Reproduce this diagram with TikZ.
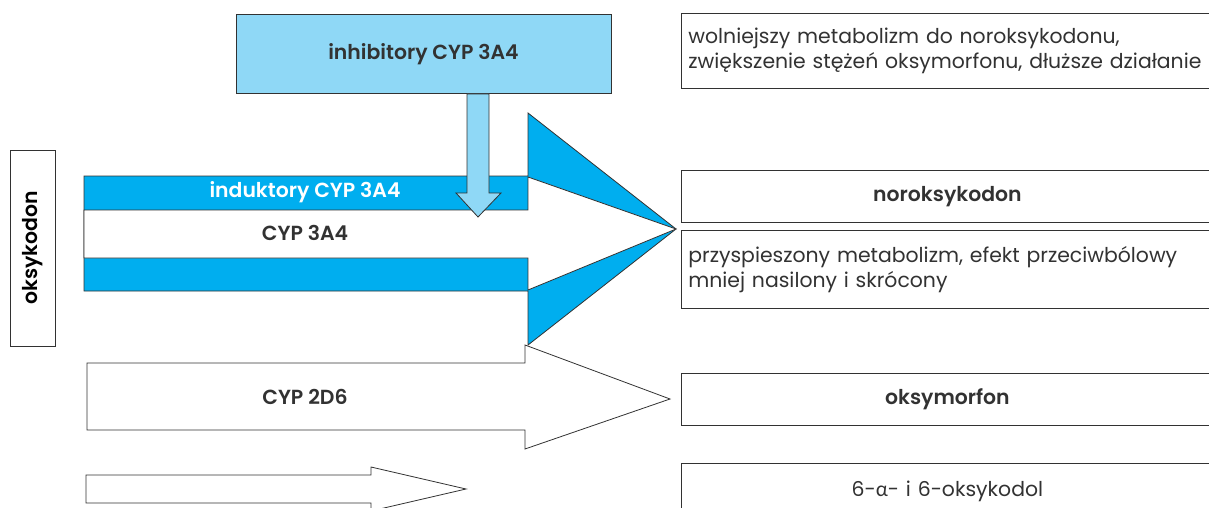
\documentclass[tikz,border=0pt]{standalone}
\usepackage{fontspec}
\setmainfont{Poppins}[BoldFont={Poppins SemiBold}]
\newfontfamily\greekfont{Lato}
\usetikzlibrary{positioning}

\definecolor{cypblue}{RGB}{0,174,239}
\definecolor{inhblue}{RGB}{143,216,246}
\definecolor{edgegray}{RGB}{50,50,50}

\begin{document}
\begin{tikzpicture}[x=1pt, y=-1pt,
    outline/.style={draw=edgegray, line width=0.8pt},
    infobox/.style={outline, fill=white, anchor=north west, minimum width=532pt,
                    text width=518pt, inner xsep=6pt, inner ysep=0pt},
    lbl/.style={font=\fontsize{20.4}{25}\selectfont\bfseries},
    txt/.style={font=\fontsize{20.4}{25}\selectfont, text=edgegray}]
  \useasboundingbox (0,0) rectangle (1209,508);

  % substrat
  \node[outline, minimum width=196pt, minimum height=45pt, rotate=90, lbl] (oksy) at (33,248) {oksykodon};

  % CYP 3A4 - duza strzalka
  \path[outline, fill=cypblue] (84,176) -- (528,176) -- (528,113) -- (676,229)
    -- (528,345) -- (528,291) -- (84,291) -- cycle;
  \path[outline, fill=white] (84,210) -- (528,210) -- (528,177) -- (676,229)
    -- (528,290) -- (528,258) -- (84,258) -- cycle;
  \node[lbl, text=white] (ind) at (305,192) {induktory CYP 3A4};
  \node[lbl, text=edgegray] (c3a4) at (305,233) {CYP 3A4};

  % inhibitory
  \node[outline, fill=inhblue, minimum width=375pt, minimum height=79pt, lbl, text=edgegray] (inh) at (423.5,54) {inhibitory CYP 3A4};
  \coordinate (inhtip) at (478,217);
  \path[outline, fill=inhblue] (467,94) -- (489,94) -- (489,193) -- (501,193) -- (inhtip)
    -- (456,193) -- (467,193) -- cycle;

  % CYP 2D6
  \path[outline, fill=white] (87,363) -- (525,363) -- (525,345) -- (670,399)
    -- (525,449) -- (525,430) -- (87,430) -- cycle;
  \node[lbl, text=edgegray] (c2d6) at (305,397) {CYP 2D6};

  % trzecia droga
  \path[outline, fill=white] (86,475) -- (371,475) -- (371,467) -- (466,489)
    -- (371,511) -- (371,503) -- (86,503) -- cycle;

  % produkty i efekty
  \node[infobox, minimum height=75pt, align=left, txt] (slow) at (681,13)
    {wolniejszy metabolizm do noroksykodonu,\\zwiększenie stężeń oksymorfonu, dłuższe działanie};
  \node[infobox, minimum height=52pt, align=center, lbl, text=edgegray] (norox) at (681,170) {noroksykodon};
  \node[infobox, minimum height=78pt, align=left, txt] (fast) at (681,230)
    {przyspieszony metabolizm, efekt przeciwbólowy\\mniej nasilony i skrócony};
  \node[infobox, minimum height=52pt, align=center, lbl, text=edgegray] (oxym) at (681,373) {oksymorfon};
  \node[infobox, minimum height=55pt, align=center, txt] (diol) at (681,463)
    {6-{\greekfont α}- i 6-oksykodol};
\end{tikzpicture}
\end{document}
